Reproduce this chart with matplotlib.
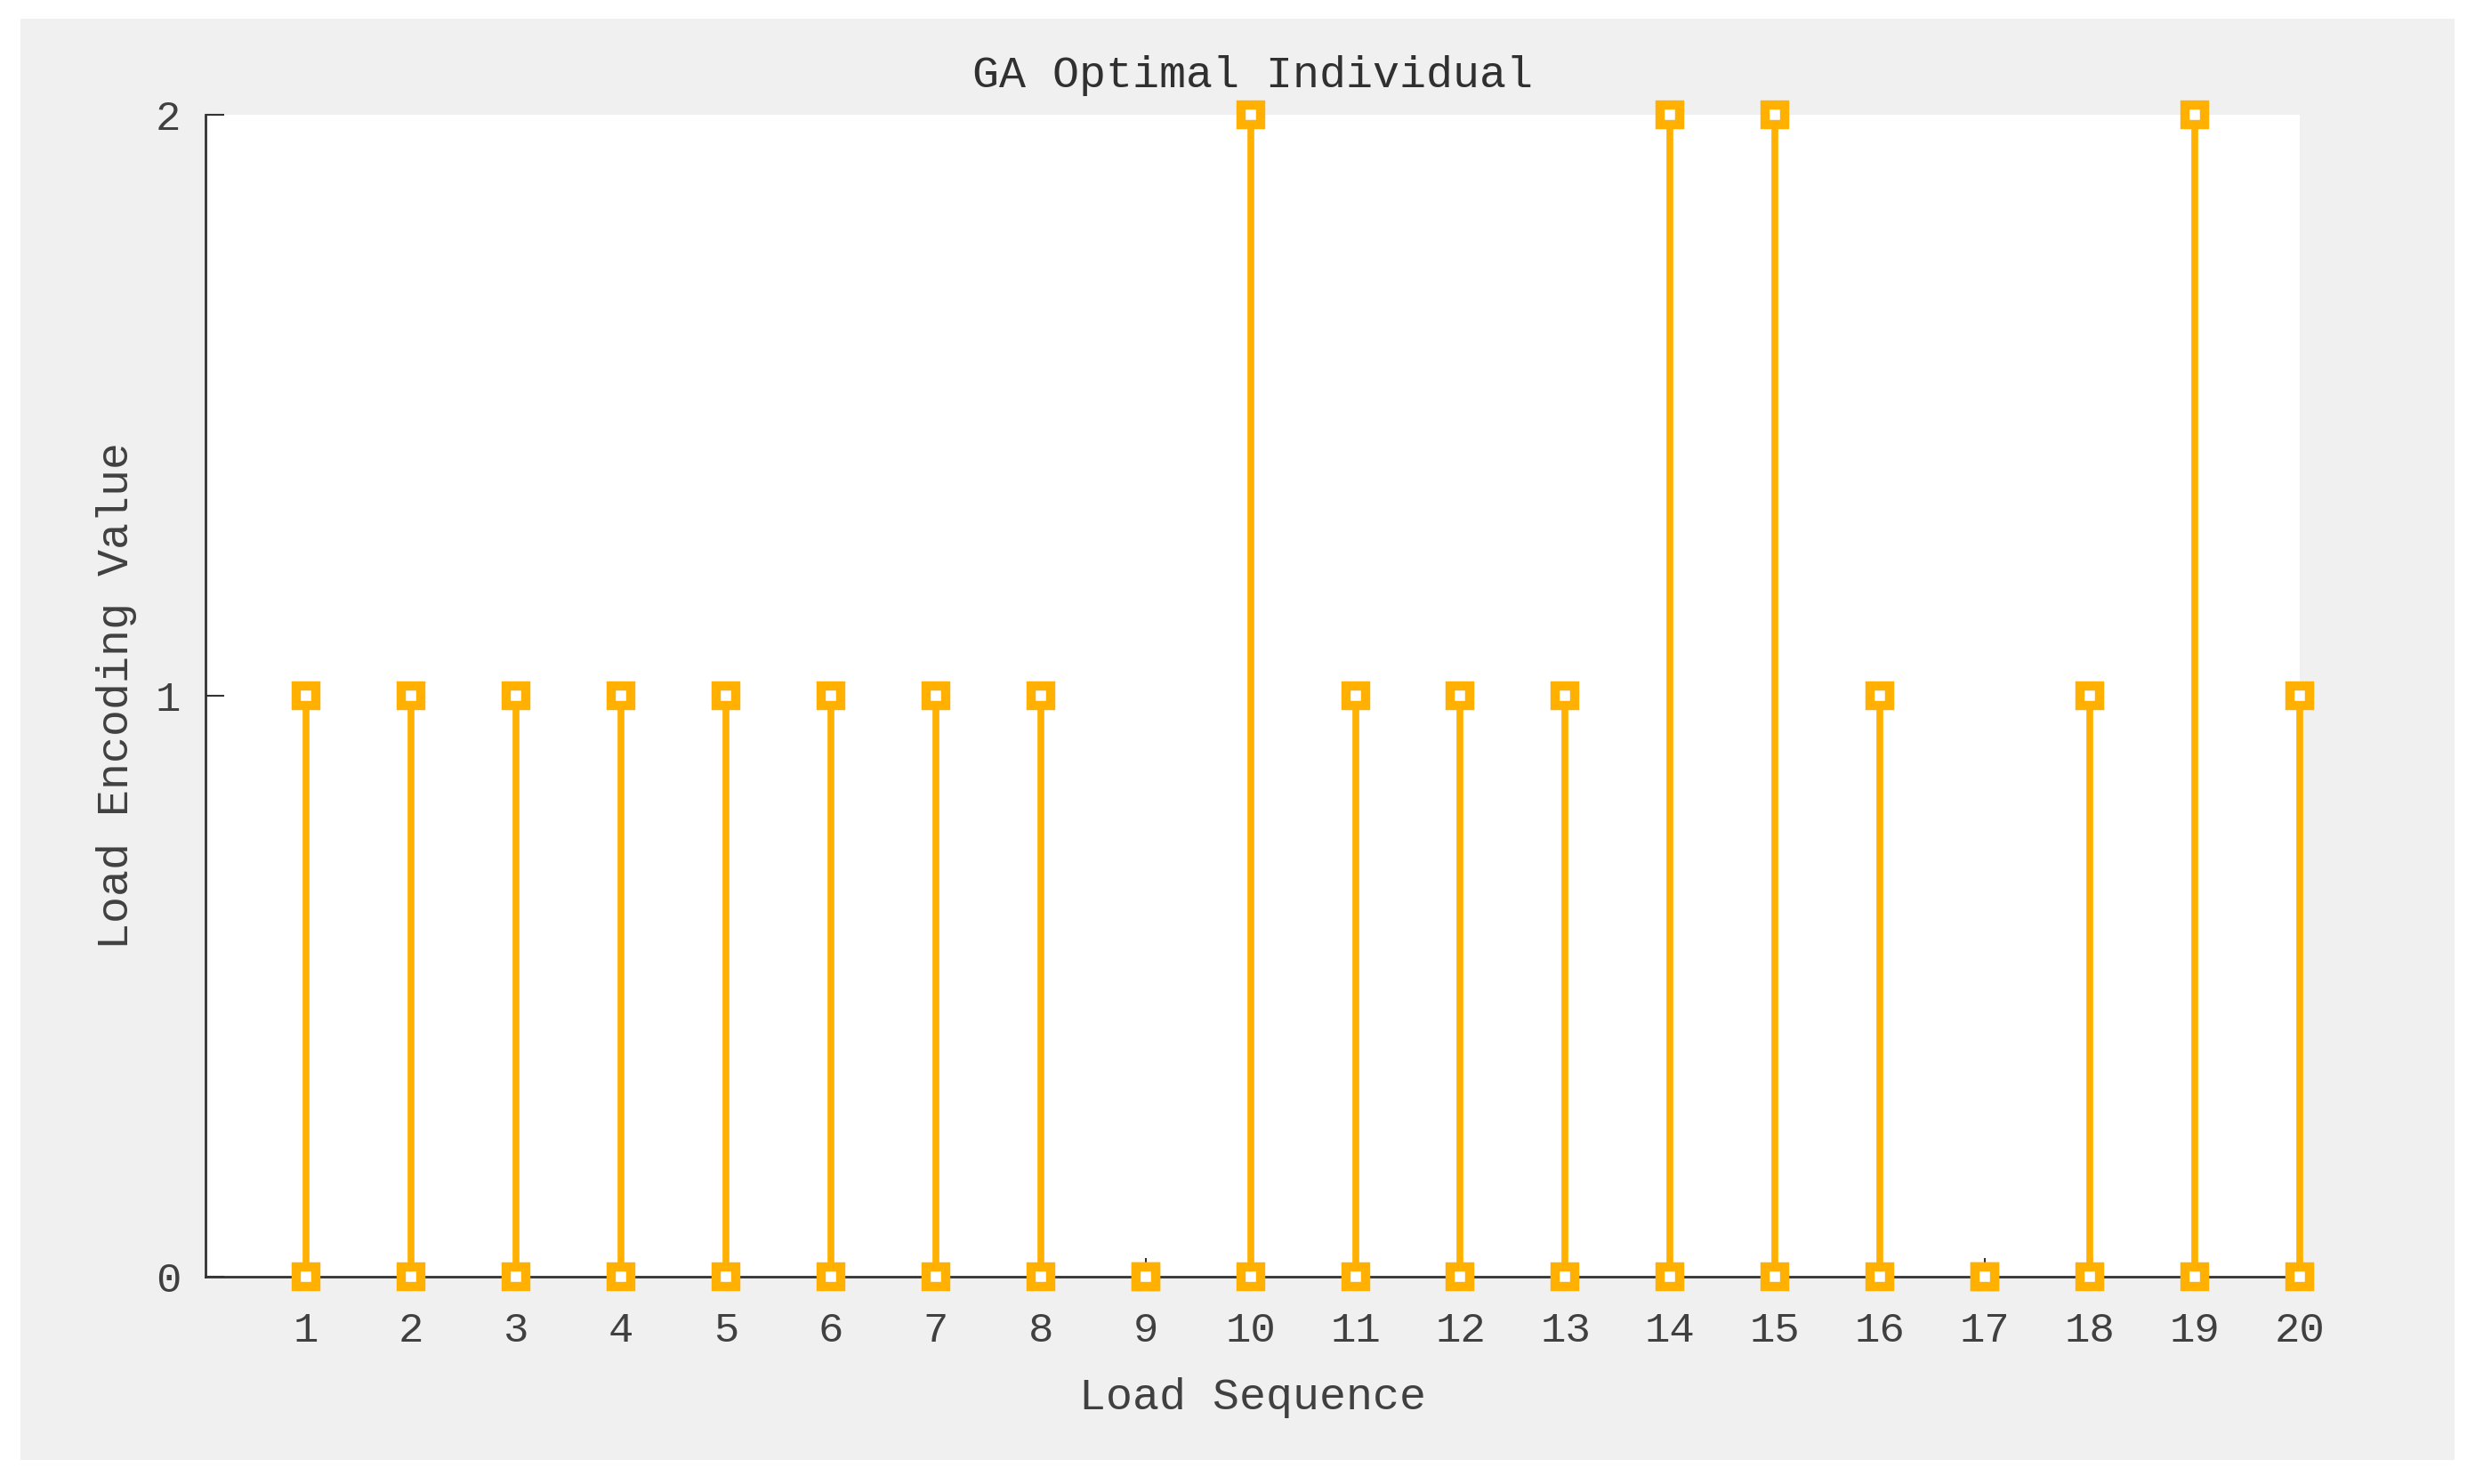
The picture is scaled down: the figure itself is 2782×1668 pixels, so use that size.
import matplotlib
matplotlib.use("Agg")
import matplotlib.pyplot as plt
from matplotlib.patches import Rectangle

load_sequence = list(range(1, 21))
encoding_values = [1, 1, 1, 1, 1, 1, 1, 1, 0, 2, 1, 1, 1, 2, 2, 1, 0, 1, 2, 1]
x_tick_labels = [str(i) for i in load_sequence]
y_ticks = [0, 1, 2]

ORANGE = "#FFB000"
TXT = "#404040"
FONT = ["Liberation Mono", "DejaVu Sans Mono"]

plt.rcParams["font.family"] = FONT

fig = plt.figure(figsize=(27.82, 16.68), dpi=100, facecolor="white")
fig.patches.append(Rectangle((0.0083, 0.0162), 0.9835, 0.9712, transform=fig.transFigure,
                             facecolor="#F0F0F0", edgecolor="none", zorder=-10))

ax = fig.add_axes([0.0830, 0.1397, 0.8462, 0.7830])
ax.set_facecolor("white")

ms = 16
mew = 7.5
markerline, stemlines, baseline = ax.stem(load_sequence, encoding_values, basefmt=" ")
plt.setp(stemlines, color=ORANGE, linewidth=5.5)
plt.setp(markerline, marker="s", markersize=ms, markeredgewidth=mew,
         markeredgecolor=ORANGE, markerfacecolor="white", clip_on=False, zorder=4)
stemlines.set_clip_on(False)
ax.plot(load_sequence, [0] * len(load_sequence), linestyle="none", marker="s",
        markersize=ms, markeredgewidth=mew, markeredgecolor=ORANGE,
        markerfacecolor="white", clip_on=False, zorder=4)

ax.set_xlim(0.04, 20)
ax.set_ylim(0, 2)
ax.set_xticks(load_sequence)
ax.set_xticklabels(x_tick_labels)
ax.set_yticks(y_ticks)
ax.set_yticklabels([str(v) for v in y_ticks])

for s in ["top", "right"]:
    ax.spines[s].set_visible(False)
for s in ["left", "bottom"]:
    ax.spines[s].set_color("#333333")
    ax.spines[s].set_linewidth(2)
    ax.spines[s].set_zorder(3)

ax.tick_params(axis="both", direction="in", length=15, width=1.5, color="#333333",
               labelsize=34, labelcolor=TXT)
ax.tick_params(axis="x", pad=28)
ax.tick_params(axis="y", pad=20)

ax.set_title("GA Optimal Individual", fontsize=36, color="#303030", pad=22)
ax.set_xlabel("Load Sequence", fontsize=36, color=TXT, labelpad=22)
ax.set_ylabel("Load Encoding Value", fontsize=36, color=TXT, labelpad=15)

fig.savefig("out.png", dpi=100, facecolor="white")
